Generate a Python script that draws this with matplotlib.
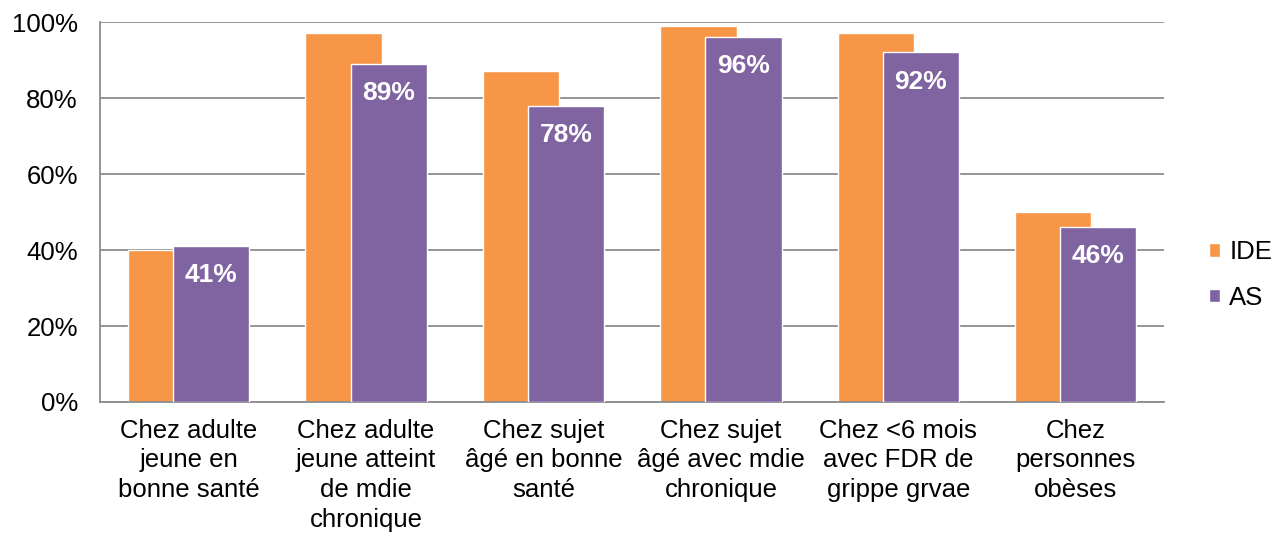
import numpy as np
import matplotlib.pyplot as plt

plt.rcParams['font.family'] = ['Liberation Sans', 'DejaVu Sans']

categories = ["Chez adulte\njeune en\nbonne santé",
              "Chez adulte\njeune atteint\nde mdie\nchronique",
              "Chez sujet\nâgé en bonne\nsanté",
              "Chez sujet\nâgé avec mdie\nchronique",
              "Chez <6 mois\navec FDR de\ngrippe grvae",
              "Chez\npersonnes\nobèses"]
ide = [40, 97, 87, 99, 97, 50]
as_vals = [41, 89, 78, 96, 92, 46]

orange = "#F79646"
purple = "#8064A2"
grid_col = "#8C8C8C"

fig = plt.figure(figsize=(12.74, 5.38), dpi=100)
ax = fig.add_axes([0.0785, 0.2528, 0.8355, 0.7062])

x = np.arange(len(categories))
w = 0.43
off = 0.127

ax.bar(x - off, ide, w, color=orange, edgecolor="white", linewidth=1, label="IDE", zorder=2)
ax.bar(x + off, as_vals, w, color=purple, edgecolor="white", linewidth=1, label="AS", zorder=3)

for xi, v in zip(x, as_vals):
    ax.annotate(f"{v}%", (xi + off, v), xytext=(0, -21), textcoords="offset points",
                ha="center", va="center", color="white", fontsize=19, fontweight="bold", zorder=4)

ax.set_xlim(-0.5, len(categories) - 0.5)
ax.set_ylim(0, 100)
ax.set_yticks(range(0, 101, 20))
ax.set_yticklabels([f"{t}%" for t in range(0, 101, 20)], fontsize=18.5)
ax.set_xticks(x)
ax.set_xticklabels(categories, fontsize=18.5, linespacing=1.3)
ax.tick_params(axis="x", length=0, pad=12)
ax.tick_params(axis="y", length=0, pad=16)

ax.yaxis.grid(True, color=grid_col, linewidth=1.3, zorder=0)
ax.set_axisbelow(True)
for s in ["top", "right"]:
    ax.spines[s].set_visible(False)
for s in ["left", "bottom"]:
    ax.spines[s].set_color(grid_col)
    ax.spines[s].set_linewidth(1.3)

ax.legend(loc="center left", bbox_to_anchor=(1.02, 0.335), frameon=False, fontsize=18.5,
          handlelength=0.45, handleheight=0.45, handletextpad=0.35, labelspacing=0.85)

fig.savefig("out.png", dpi=100)
